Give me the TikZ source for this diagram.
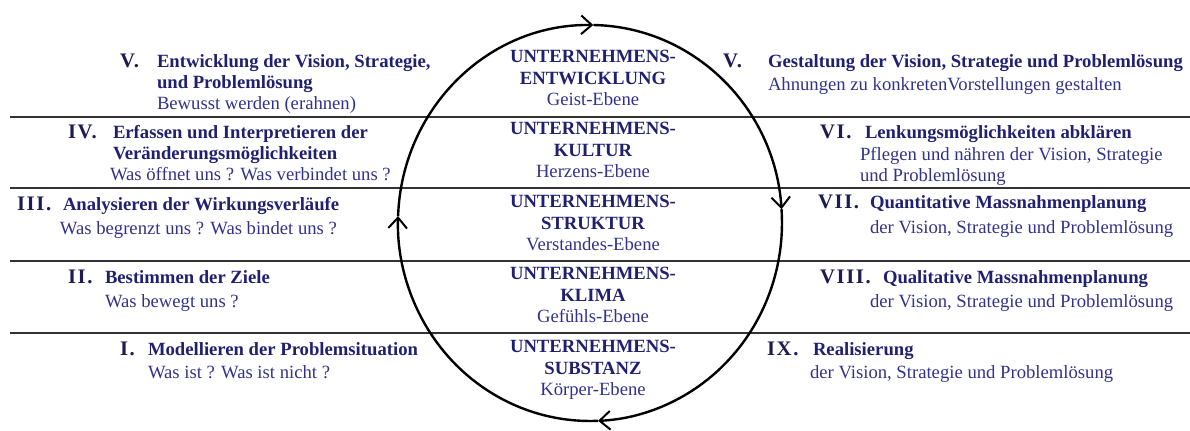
\documentclass[tikz,border=0pt]{standalone}
\usepackage{fontspec}
\setmainfont{Liberation Serif}
\newfontfamily\numeralfont[LetterSpace=8]{Liberation Serif}
\usetikzlibrary{arrows.meta}

\definecolor{inknum}{RGB}{28,28,80}
\definecolor{inktitle}{RGB}{32,32,112}
\definecolor{inksub}{RGB}{50,50,140}

\begin{document}
\begin{tikzpicture}[x=0.75pt,y=0.75pt,
  every node/.style={inner sep=0pt, outer sep=0pt},
  txt/.style={font=\fontsize{14}{16.2}\selectfont},
  num/.style={anchor=base west, font=\numeralfont\fontsize{15.5}{16.2}\selectfont\bfseries, text=inknum},
  ttl/.style={txt, anchor=base west, align=left, font=\fontsize{14}{16.2}\selectfont\bfseries, text=inktitle},
  sub/.style={txt, anchor=base west, align=left, text=inksub},
  lvl/.style={txt, anchor=base, align=center, text=inktitle},
  rule/.style={line width=1.4pt, draw=black!80},
  cyc/.style={line width=1.8pt, -{Straight Barb[length=8pt,width=14pt,line width=1.5pt]}}
]
\useasboundingbox (0,0) rectangle (1190,430);

% level separators
\foreach \yy in {313,242,169,97} \draw[rule] (10,\yy) -- (1190,\yy);

% central levels (multi-line nodes sit on the baseline of their last line)
\node[lvl] (lvE) at (593,324.3) {\textbf{UNTERNEHMENS-}\\\textbf{ENTWICKLUNG}\\\textcolor{inksub}{Geist-Ebene}};
\node[lvl] (lvK) at (593,252.3) {\textbf{UNTERNEHMENS-}\\\textbf{KULTUR}\\\textcolor{inksub}{Herzens-Ebene}};
\node[lvl] (lvS) at (593,179.3) {\textbf{UNTERNEHMENS-}\\\textbf{STRUKTUR}\\\textcolor{inksub}{Verstandes-Ebene}};
\node[lvl] (lvM) at (593,107.3) {\textbf{UNTERNEHMENS-}\\\textbf{KLIMA}\\\textcolor{inksub}{Gefühls-Ebene}};
\node[lvl] (lvB) at (593,34.3) {\textbf{UNTERNEHMENS-}\\\textbf{SUBSTANZ}\\\textcolor{inksub}{Körper-Ebene}};

% cycle around the levels
\coordinate (cL) at (398.1,213.9);
\coordinate (cT) at (593.4,405.0);
\coordinate (cR) at (781.5,220.8);
\coordinate (cB) at (598.0,9.2);
\draw[cyc] (cL) arc[start angle=178, end angle=89, x radius=144pt, y radius=148.5pt];
\draw[cyc] (cT) arc[start angle=89, end angle=4, x radius=144pt, y radius=148.5pt];
\draw[cyc] (cR) arc[start angle=4, end angle=-87.6, x radius=144pt, y radius=148.5pt];
\draw[cyc] (cB) arc[start angle=-87.6, end angle=-182, x radius=144pt, y radius=148.5pt];

% left column
\node[num] (lnV) at (120,363) {V.};
\node[ttl] (ltV) at (157,341.4) {Entwicklung der Vision, Strategie,\\und Problemlösung};
\node[sub] (lsV) at (157,321) {Bewusst werden (erahnen)};

\node[num] (lnIV) at (68,292) {IV.};
\node[ttl] (ltIV) at (113,270.4) {Erfassen und Interpretieren der\\Veränderungsmöglichkeiten};
\node[sub] (lsIV) at (110,250) {Was öffnet uns ? Was verbindet uns ?};

\node[num] (lnIII) at (17,220) {III.};
\node[ttl] (ltIII) at (63,220) {Analysieren der Wirkungsverläufe};
\node[sub] (lsIII) at (60,196) {Was begrenzt uns ? Was bindet uns ?};

\node[num] (lnII) at (68,147) {II.};
\node[ttl] (ltII) at (105,147) {Bestimmen der Ziele};
\node[sub] (lsII) at (105,123) {Was bewegt uns ?};

\node[num] (lnI) at (120,75) {I.};
\node[ttl] (ltI) at (148,75) {Modellieren der Problemsituation};
\node[sub] (lsI) at (148,52) {Was ist ? Was ist nicht ?};

% right column
\node[num] (rnV) at (723,363) {V.};
\node[ttl] (rtV) at (768,363) {Gestaltung der Vision, Strategie und Problemlösung};
\node[sub] (rsV) at (768,340) {Ahnungen zu konkretenVorstellungen gestalten};

\node[num] (rnVI) at (820,292) {VI.};
\node[ttl] (rtVI) at (865,292) {Lenkungsmöglichkeiten abklären};
\node[sub] (rsVI) at (860,248.4) {Pflegen und nähren der Vision, Strategie\\und Problemlösung};

\node[num] (rnVII) at (818,222) {VII.};
\node[ttl] (rtVII) at (870,222) {Quantitative Massnahmenplanung};
\node[sub] (rsVII) at (870,197) {der Vision, Strategie und Problemlösung};

\node[num] (rnVIII) at (820,147) {VIII.};
\node[ttl] (rtVIII) at (883,147) {Qualitative Massnahmenplanung};
\node[sub] (rsVIII) at (870,123) {der Vision, Strategie und Problemlösung};

\node[num] (rnIX) at (767,75) {IX.};
\node[ttl] (rtIX) at (813,75) {Realisierung};
\node[sub] (rsIX) at (810,52) {der Vision, Strategie und Problemlösung};
\end{tikzpicture}
\end{document}
